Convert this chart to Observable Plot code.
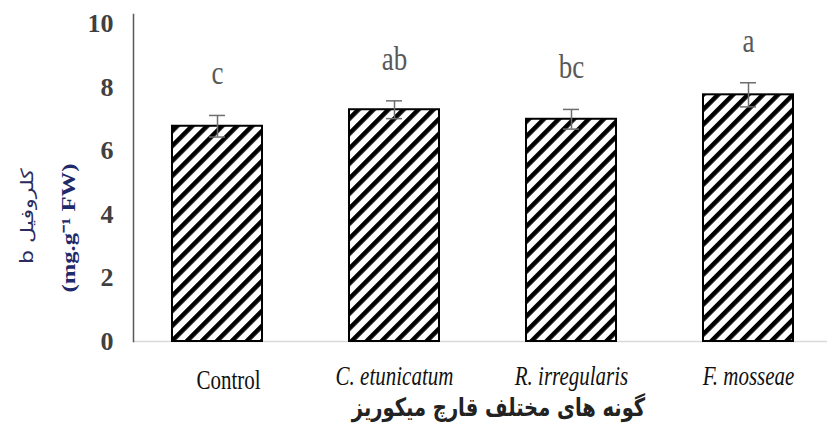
<!DOCTYPE html>
<html><head><meta charset="utf-8">
<script src="https://cdn.jsdelivr.net/npm/d3@7"></script>
<script src="https://cdn.jsdelivr.net/npm/@observablehq/plot@0.6"></script>
<style>
html,body{margin:0;padding:0;background:#fff;}
#chart{width:827px;height:430px;}
</style></head><body><div id="chart"></div>
<script>
const categories = ["Control", "C. etunicatum", "R. irregularis", "F. mosseae"];
const means = [6.78, 7.30, 7.00, 7.77];
const errors = [0.34, 0.28, 0.31, 0.38];
const letters = ["c", "ab", "bc", "a"];
const yTicks = [0, 2, 4, 6, 8, 10];
const xTitle = "گونه های مختلف قارچ میکوریز";
const yTitleLine1 = "کلروفیل b";
const yTitleLine2 = "(mg.g\u207B\u00B9 FW)";

const rows = categories.map((c, i) => ({cat: c, mean: means[i], se: errors[i], letter: letters[i]}));
const controlRows = rows.filter(d => d.cat === "Control");
const speciesRows = rows.filter(d => d.cat !== "Control");
const errColor = "#6e6e6e";
const serif = "'Liberation Serif', 'Times New Roman', serif";
const sans = "'DejaVu Sans', sans-serif";

const chart = Plot.plot({
  width: 827, height: 430,
  marginLeft: 133, marginRight: 0, marginTop: 14, marginBottom: 89,
  style: {fontFamily: serif, background: "#fff", color: "#404040", overflow: "visible"},
  x: {domain: categories, range: [129, 837], paddingInner: 0.49, paddingOuter: 0.245, axis: null},
  y: {domain: [0, 10.3], axis: null},
  marks: [
    Plot.ruleY([0], {stroke: "#d9d9d9", strokeWidth: 1.5}),
    Plot.frame({anchor: "left", stroke: "#595959", strokeWidth: 1.5}),
    Plot.axisY(yTicks, {tickSize: 0, tickPadding: 20, tickFormat: d => String(d), fontSize: 26, fontWeight: "bold", fontFamily: serif, color: "#404040", label: null}),
    Plot.barY(rows, {x: "cat", y: "mean", fill: "url(#hatch)", stroke: "#000", strokeWidth: 2}),
    Plot.ruleX(rows, {x: "cat", y1: d => d.mean - d.se, y2: d => d.mean + d.se, stroke: errColor, strokeWidth: 1.5}),
    Plot.tickY(rows, {x: "cat", y: d => d.mean + d.se, stroke: errColor, strokeWidth: 1.5, insetLeft: 37, insetRight: 37}),
    Plot.tickY(rows, {x: "cat", y: d => d.mean - d.se, stroke: errColor, strokeWidth: 1.5, insetLeft: 37, insetRight: 37}),
    // text marks (order matters for the stretch step below)
    Plot.text(rows, {x: "cat", y: d => d.mean + d.se + 1.05, text: "letter", lineAnchor: "bottom", fontSize: 27, fontFamily: serif, fill: "#595959"}),
    Plot.text(controlRows, {x: "cat", text: "cat", frameAnchor: "bottom", textAnchor: "middle", dy: 45, dx: 11, fontSize: 21, fontFamily: serif, fill: "#111"}),
    Plot.text(speciesRows, {x: "cat", text: "cat", frameAnchor: "bottom", textAnchor: "middle", dy: 41, fontSize: 21, fontFamily: serif, fontStyle: "italic", fill: "#111"}),
    Plot.text([xTitle], {frameAnchor: "bottom", textAnchor: "middle", dy: 73, dx: 18, fontSize: 19.5, fontWeight: "bold", fontFamily: sans, fill: "#222"}),
    Plot.text([yTitleLine1], {frameAnchor: "left", textAnchor: "middle", dx: -106, dy: 38, rotate: -90, fontSize: 17, fontFamily: sans, fill: "#2b2b5e"}),
    Plot.text([yTitleLine2], {frameAnchor: "left", textAnchor: "middle", dx: -65, dy: 50, rotate: -90, fontSize: 19, fontWeight: "bold", fontFamily: serif, fill: "#1f2a6b"})
  ]
});

const svgEl = chart.tagName.toLowerCase() === "svg" ? chart : chart.querySelector("svg");
const svgSel = d3.select(svgEl);

// hatch pattern definition
const defs = svgSel.insert("defs", ":first-child");
const pat = defs.append("pattern").attr("id", "hatch").attr("patternUnits", "userSpaceOnUse")
  .attr("width", 10.6).attr("height", 10.6).attr("patternTransform", "rotate(45)");
pat.append("rect").attr("width", 10.6).attr("height", 10.6).attr("fill", "#fff");
pat.append("rect").attr("width", 4.6).attr("height", 10.6).attr("fill", "#000");

document.getElementById("chart").appendChild(chart);

const textGroups = svgEl.querySelectorAll('g[aria-label="text"]');
const [gLetters, gCtrl, gSpecies, gXTitle, gY1, gY2] = textGroups;
d3.select(gY1).selectAll("text").attr("direction", "rtl").style("direction", "rtl").style("unicode-bidi", "embed");

// vertical stretch of each text about the centre of its box
function stretchGroup(g, k) {
  if (!g) return;
  Array.from(g.querySelectorAll("text")).forEach(t => {
    const r = t.getBoundingClientRect();
    const parent = t.parentNode;
    const ctm = parent.getScreenCTM().inverse();
    const p = svgEl.createSVGPoint();
    p.x = r.x + r.width / 2; p.y = r.y + r.height / 2;
    const q = p.matrixTransform(ctm);
    const wrap = document.createElementNS("http://www.w3.org/2000/svg", "g");
    wrap.setAttribute("transform", `translate(${q.x},${q.y}) scale(1,${k}) translate(${-q.x},${-q.y})`);
    parent.insertBefore(wrap, t);
    wrap.appendChild(t);
  });
}
stretchGroup(gLetters, 1.25);
stretchGroup(gCtrl, 1.3);
stretchGroup(gSpecies, 1.3);
stretchGroup(gXTitle, 1.3);
stretchGroup(gY1, 1.3);
stretchGroup(gY2, 1.3);
</script></body></html>
